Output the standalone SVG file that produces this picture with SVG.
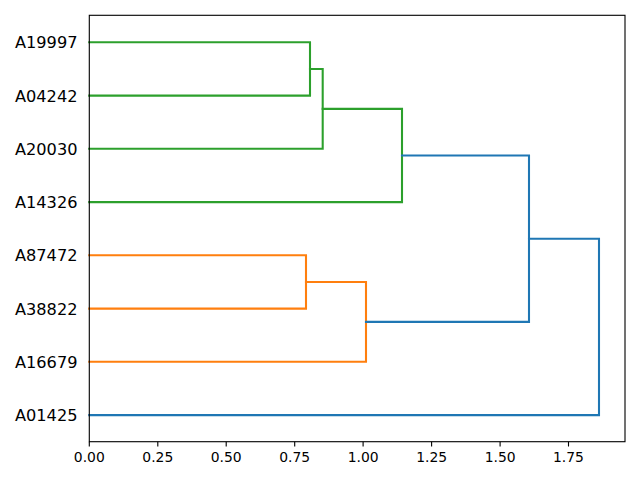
<svg xmlns="http://www.w3.org/2000/svg" width="640" height="480" viewBox="0 0 640 480">
<style>
.g{stroke:#2ca02c}.o{stroke:#ff7f0e}.b{stroke:#1f77b4}
#links path{fill:none;stroke-width:2.08;stroke-linejoin:miter;stroke-linecap:square}
.lbl{font-family:"DejaVu Sans",sans-serif;font-size:16.2px;fill:#000;text-anchor:end}
.tk{font-family:"DejaVu Sans",sans-serif;font-size:13.9px;fill:#000;text-anchor:middle}
.tick{stroke:#000;stroke-width:1.11}
</style>
<rect x="0" y="0" width="640" height="480" fill="#fff"/>
<g id="links">
<path class="g" d="M89.3 42.3H310V95.6H89.3"/>
<path class="g" d="M310 69H322.7V148.8H89.3"/>
<path class="g" d="M322.7 108.9H402V202.1H89.3"/>
<path class="o" d="M89.3 255.3H306V308.6H89.3"/>
<path class="o" d="M306 282H366V361.8H89.3"/>
<path class="b" d="M402 155.5H529V321.9H366"/>
<path class="b" d="M529 238.7H599V415.1H89.3"/>
</g>
<g id="frame">
<rect x="89.3" y="15.3" width="535.7" height="426.4" fill="none" stroke="#000" stroke-width="1.11"/>
</g>
<g id="leaves">
<g id="leaf-A19997"><text class="lbl" x="77.5" y="48.3">A19997</text></g>
<g id="leaf-A04242"><text class="lbl" x="77.5" y="101.6">A04242</text></g>
<g id="leaf-A20030"><text class="lbl" x="77.5" y="154.8">A20030</text></g>
<g id="leaf-A14326"><text class="lbl" x="77.5" y="208.1">A14326</text></g>
<g id="leaf-A87472"><text class="lbl" x="77.5" y="261.3">A87472</text></g>
<g id="leaf-A38822"><text class="lbl" x="77.5" y="314.6">A38822</text></g>
<g id="leaf-A16679"><text class="lbl" x="77.5" y="367.8">A16679</text></g>
<g id="leaf-A01425"><text class="lbl" x="77.5" y="421.1">A01425</text></g>
</g>
<g id="xaxis">
<path class="tick" d="M89.3 441.7v4.9M157.8 441.7v4.9M226.2 441.7v4.9M294.7 441.7v4.9M363.1 441.7v4.9M431.6 441.7v4.9M500.1 441.7v4.9M568.5 441.7v4.9"/>
<text class="tk" x="89.3" y="462">0.00</text>
<text class="tk" x="157.8" y="462">0.25</text>
<text class="tk" x="226.2" y="462">0.50</text>
<text class="tk" x="294.7" y="462">0.75</text>
<text class="tk" x="363.1" y="462">1.00</text>
<text class="tk" x="431.6" y="462">1.25</text>
<text class="tk" x="500.1" y="462">1.50</text>
<text class="tk" x="568.5" y="462">1.75</text>
</g>
</svg>
